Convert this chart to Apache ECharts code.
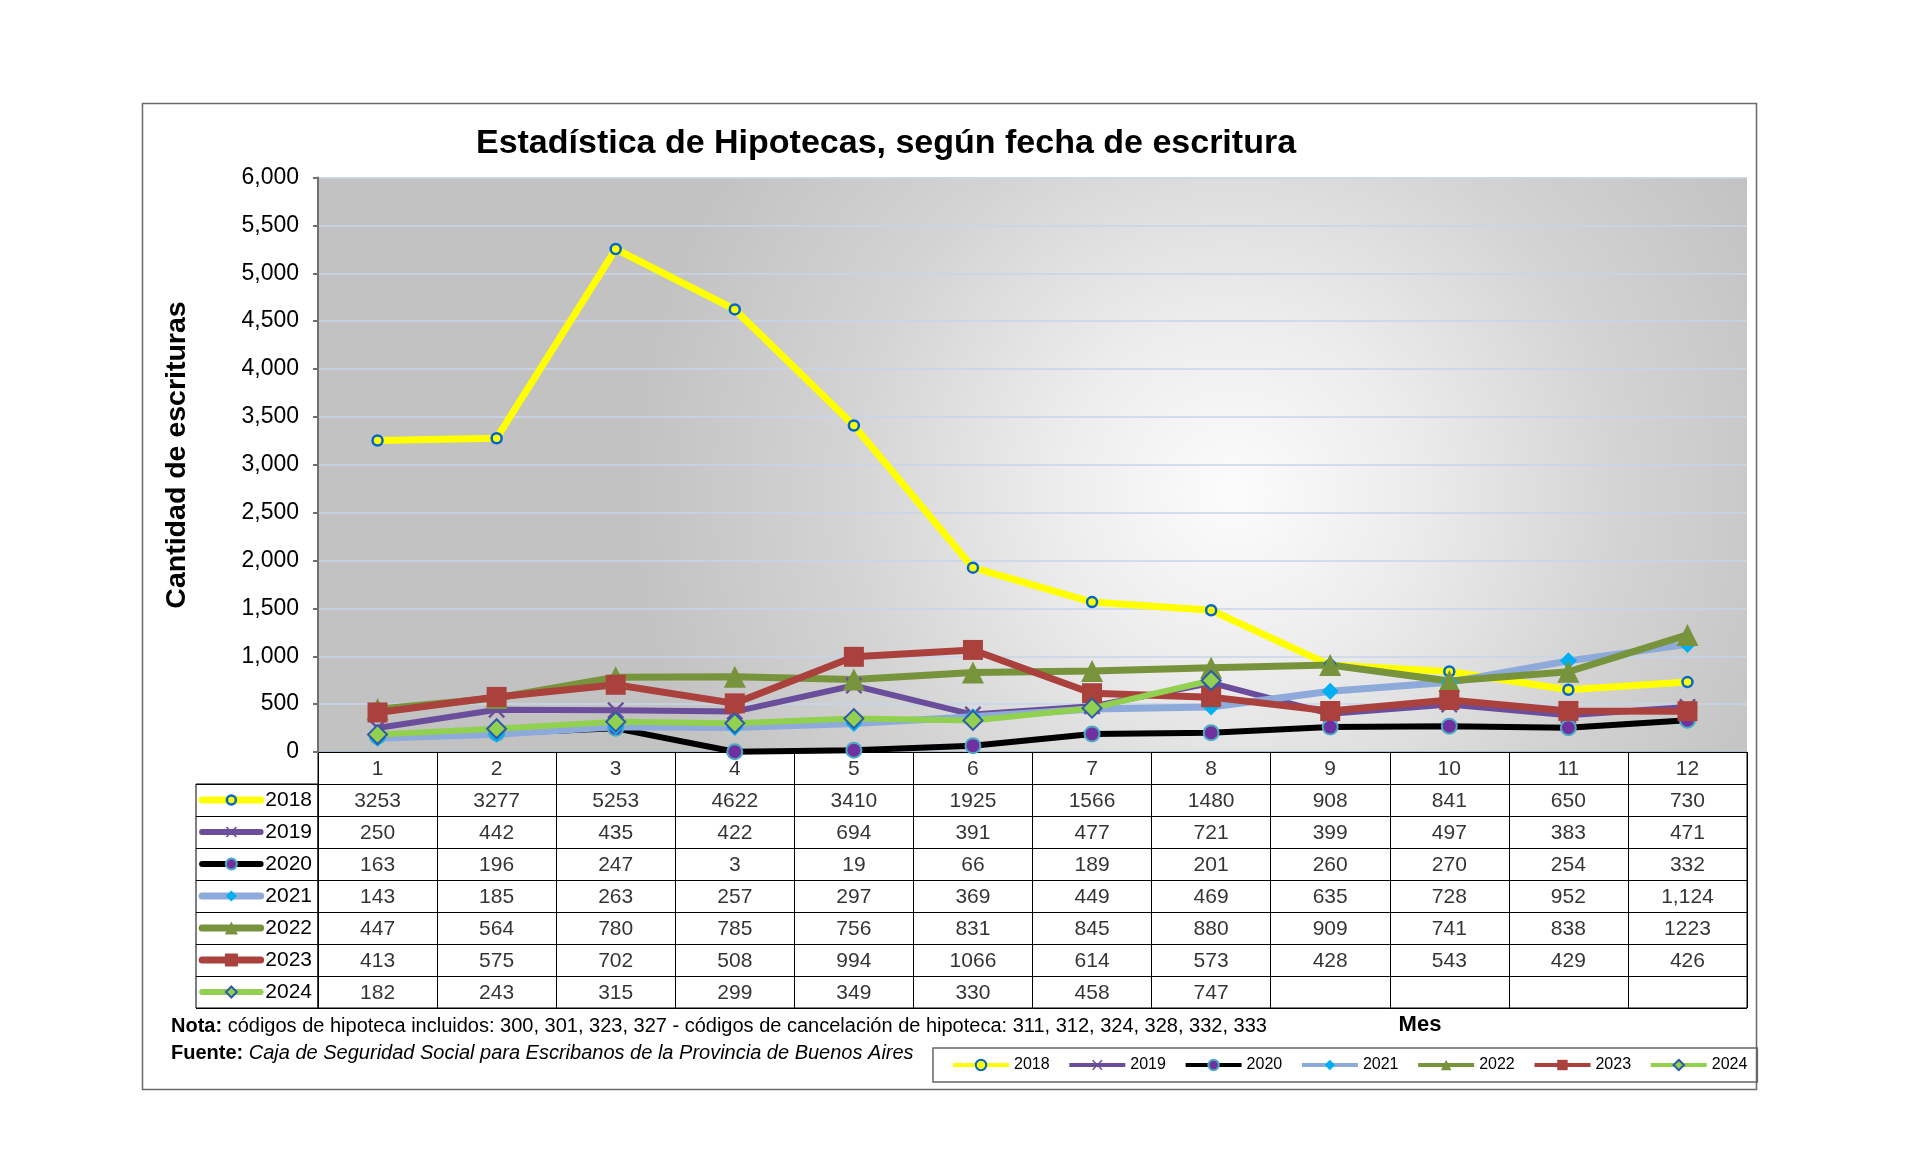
<!DOCTYPE html>
<html><head><meta charset="utf-8">
<script src="https://cdn.jsdelivr.net/npm/echarts@6/dist/echarts.min.js"></script>
<style>html,body{margin:0;padding:0;background:#fff}#c{width:1920px;height:1174px}</style>
</head><body><div id="c"></div>
<script>
// ---------- DATA ----------
const months = ['1','2','3','4','5','6','7','8','9','10','11','12'];
const years = ['2018','2019','2020','2021','2022','2023','2024'];
const v2018 = [3253,3277,5253,4622,3410,1925,1566,1480,908,841,650,730];
const v2019 = [250,442,435,422,694,391,477,721,399,497,383,471];
const v2020 = [163,196,247,3,19,66,189,201,260,270,254,332];
const v2021 = [143,185,263,257,297,369,449,469,635,728,952,1124];
const v2022 = [447,564,780,785,756,831,845,880,909,741,838,1223];
const v2023 = [413,575,702,508,994,1066,614,573,428,543,429,426];
const v2024 = [182,243,315,299,349,330,458,747,null,null,null,null];
const yMin = 0, yMax = 6000, yStep = 500;
const separatorRows = ['2021']; // row shown with thousands separator in the table
const valuesByYear = {'2018':v2018,'2019':v2019,'2020':v2020,'2021':v2021,'2022':v2022,'2023':v2023,'2024':v2024};

// ---------- STYLE ----------
function hasFont(name){
  const c=document.createElement('canvas').getContext('2d');
  const t='4622 Mes abcdefgWW';
  c.font='40px monospace'; const w0=c.measureText(t).width;
  c.font='40px "'+name+'", monospace'; const w1=c.measureText(t).width;
  return Math.abs(w0-w1)>0.5;
}
const NARROW = hasFont('Liberation Sans Narrow');
const FONT = '"Liberation Sans", Arial, sans-serif';
const TFONT = NARROW ? '"Liberation Sans Narrow", "Liberation Sans", sans-serif' : FONT;
const TSIZE = NARROW ? 24 : 21;
const NSIZE = NARROW ? 23 : 20;

const XPATH = 'path://M1,0 L5,4 L9,0 L10,1 L6,5 L10,9 L9,10 L5,6 L1,10 L0,9 L4,5 L0,1 Z';
const styles = {
  '2018': {color:'#FFFF00', width:7, symbol:'circle', size:10, ksize:9, fill:'#FFFF00', border:'#0066CC', bw:2.5},
  '2019': {color:'#6B4E9B', width:6, symbol:XPATH, size:17, ksize:11, fill:'#6B4E9B', border:'#6B4E9B', bw:0},
  '2020': {color:'#000000', width:6, symbol:'circle', size:15, ksize:11, fill:'#7030A0', border:'#4BACC6', bw:2},
  '2021': {color:'#8EAADB', width:7, symbol:'diamond', size:17, ksize:11, fill:'#00B0F0', border:'#00B0F0', bw:0},
  '2022': {color:'#77933C', width:7, symbol:'triangle', size:22, ksize:13, fill:'#77933C', border:'#77933C', bw:0},
  '2023': {color:'#AA413D', width:7, symbol:'rect', size:20, ksize:13, fill:'#AA413D', border:'#AA413D', bw:0},
  '2024': {color:'#92D050', width:6, symbol:'diamond', size:19, ksize:11, fill:'#92D050', border:'#2E5AA8', bw:2}
};

// layout
const PL = 318, PR = 1747, PT = 177.5, PB = 752, ROW = 32;
const TB = PB + ROW*(years.length+1);
const KL = 196;

const chart = echarts.init(document.getElementById('c'), null, {renderer:'canvas'});

const mainSeries = years.map(y => {
  const s = styles[y];
  return {
    name: y, type:'line', xAxisIndex:0, yAxisIndex:0,
    data: valuesByYear[y],
    symbol: s.symbol, symbolSize: s.size, showAllSymbol:true,
    lineStyle:{color:s.color, width:s.width},
    itemStyle:{color:s.fill, borderColor:s.border, borderWidth:s.bw},
    emphasis:{disabled:true}, animation:false, connectNulls:false
  };
});

const keySeries = years.map(y => {
  const s = styles[y];
  return {
    name: 'key'+y, type:'line', xAxisIndex:2, yAxisIndex:2,
    data: [{value:[0.05,y], symbol:'none'}, {value:[0.29,y]}, {value:[0.53,y], symbol:'none'}],
    symbol: s.symbol, symbolSize: s.ksize, showAllSymbol:true,
    lineStyle:{color:s.color, width:s.width, cap:'round'},
    itemStyle:{color:s.fill, borderColor:s.border, borderWidth:s.bw},
    emphasis:{disabled:true}, animation:false, silent:true
  };
});

const fmt = (y, v) => separatorRows.includes(y) ? v.toLocaleString('en-US') : String(v);
const tableRows = ['Mes'].concat(years);
const cells = [];
months.forEach((m, c) => cells.push({value:[m,'Mes'], label:{formatter:m}}));
years.forEach(y => {
  valuesByYear[y].forEach((v, c) => {
    if (v === null || v === undefined) return;
    cells.push({value:[months[c], y], label:{formatter: fmt(y, v)}});
  });
});

const option = {
  backgroundColor:'#ffffff',
  animation:false,
  title:{
    text:'Estadística de Hipotecas, según fecha de escritura',
    left:886, top:127, textAlign:'center', padding:0,
    textStyle:{fontFamily:FONT, fontWeight:'bold', fontSize:34, color:'#000'}
  },
  legend:{
    data: years,
    left:933, top:1048, orient:'horizontal',
    padding:[9,10,9,18], itemGap:17.7, itemWidth:56, itemHeight:13,
    borderColor:'#666', borderWidth:1.5,
    lineStyle:{width:4},
    textStyle:{fontFamily:FONT, fontSize:16, color:'#000'},
    selectedMode:false
  },
  grid:[
    {left:PL, top:PT, width:PR-PL, height:PB-PT, show:true, borderWidth:0,
     backgroundColor: new echarts.graphic.RadialGradient(0.64, 0.55, 1.05, [
       {offset:0, color:'#FCFCFC'}, {offset:0.3, color:'#ECECEC'}, {offset:0.65, color:'#D3D3D3'}, {offset:1, color:'#C2C2C2'}])},
    {left:PL, top:PB, width:PR-PL, height:TB-PB, show:true, borderColor:'#000', borderWidth:1, backgroundColor:'transparent'},
    {left:KL, top:PB+ROW, width:PL-KL, height:TB-PB-ROW, show:true, borderColor:'#000', borderWidth:1, backgroundColor:'transparent'}
  ],
  xAxis:[
    {gridIndex:0, type:'category', data:months, boundaryGap:true,
     axisLine:{show:false}, axisTick:{show:false}, axisLabel:{show:false}, splitLine:{show:false}},
    {gridIndex:1, type:'category', data:months, boundaryGap:true,
     axisLine:{show:false}, axisTick:{show:false}, axisLabel:{show:false},
     splitLine:{show:true, interval:0, lineStyle:{color:'#000', width:1}}},
    {gridIndex:2, type:'value', min:0, max:1, show:false}
  ],
  yAxis:[
    {gridIndex:0, type:'value', min:yMin, max:yMax, interval:yStep,
     axisLine:{show:true, lineStyle:{color:'#707070', width:2}},
     axisTick:{show:true, length:5, lineStyle:{color:'#707070', width:2}},
     axisLabel:{margin:19, fontFamily:FONT, fontSize:23, color:'#000', formatter: v => v.toLocaleString('en-US')},
     splitLine:{show:true, lineStyle:{color:'#C9D5E8', width:1.5}}},
    {gridIndex:1, type:'category', data:tableRows, inverse:true, boundaryGap:true,
     axisLine:{show:false}, axisTick:{show:false}, axisLabel:{show:false},
     splitLine:{show:true, interval:0, lineStyle:{color:'#000', width:1}}},
    {gridIndex:2, type:'category', data:years, inverse:true, boundaryGap:true, position:'right',
     axisLine:{show:false}, axisTick:{show:false},
     axisLabel:{inside:true, margin:6, fontFamily:TFONT, fontSize:TSIZE, color:'#000'},
     splitLine:{show:true, interval:0, lineStyle:{color:'#000', width:1}}}
  ],
  series: mainSeries.concat(keySeries).concat([{
    name:'table', type:'scatter', xAxisIndex:1, yAxisIndex:1,
    data: cells, symbolSize:1, itemStyle:{color:'rgba(0,0,0,0)'}, silent:true,
    label:{show:true, position:'inside', offset:[0,1], fontFamily:TFONT, fontSize:TSIZE, color:'#000'}
  }]),
  graphic:[
    {type:'rect', shape:{x:142.5, y:103.5, width:1614, height:986}, style:{fill:null, stroke:'#6A6A6A', lineWidth:1.5}, silent:true, z:-10},
    {type:'text', x:177, y:455, rotation:Math.PI/2, style:{
      text:'Cantidad de escrituras', fontFamily:FONT, fontWeight:'bold', fontSize:28.5, fill:'#000',
      align:'center', verticalAlign:'middle'}},
    {type:'text', x:171, y:1026, style:{
      text:'{b|Nota:} códigos de hipoteca incluidos: 300, 301, 323, 327 - códigos de cancelación de hipoteca: 311, 312, 324, 328, 332, 333',
      fontFamily:TFONT, fontSize:NSIZE, fill:'#000', verticalAlign:'middle',
      rich:{b:{fontFamily:TFONT, fontSize:NSIZE, fontWeight:'bold', fill:'#000'}}}},
    {type:'text', x:171, y:1053, style:{
      text:'{b|Fuente:} {i|Caja de Seguridad Social para Escribanos de la Provincia de Buenos Aires}',
      fontFamily:TFONT, fontSize:NSIZE, fill:'#000', verticalAlign:'middle',
      rich:{b:{fontFamily:TFONT, fontSize:NSIZE, fontWeight:'bold', fill:'#000'},
            i:{fontFamily:TFONT, fontSize:NSIZE, fontStyle:'italic', fill:'#000'}}}},
    {type:'text', x:1420, y:1025, style:{text:'Mes', fontFamily:FONT, fontSize:22, fontWeight:'bold', fill:'#000', align:'center', verticalAlign:'middle'}}
  ]
};
chart.setOption(option);
</script>
</body></html>
